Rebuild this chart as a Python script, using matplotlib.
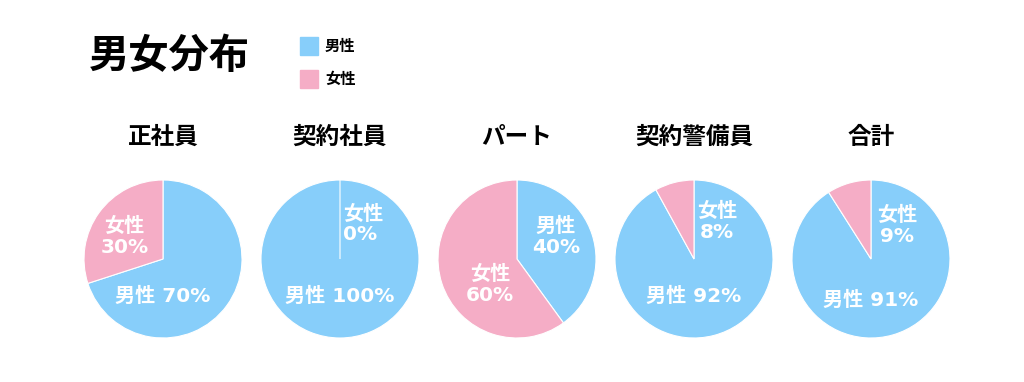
import matplotlib
matplotlib.use("Agg")
import matplotlib.pyplot as plt

plt.rcParams['font.family'] = ['DejaVu Sans', 'Noto Sans CJK JP']

categories = ["正社員", "契約社員", "パート", "契約警備員", "合計"]
male = [70, 100, 40, 92, 91]
female = [30, 0, 60, 8, 9]
series_names = ["男性", "女性"]
colors = ["#87CEFA", "#F5ADC6"]

# label positions (in radius units) for male / female text
male_pos = [(0, -0.47), (0, -0.47), (0.49, 0.28), (0, -0.47), (0, -0.52)]
female_pos = [(-0.49, 0.28), (0.04, 0.44), (-0.34, -0.33), (0.29, 0.47), (0.33, 0.42)]
female_ha = ["center", "left", "center", "center", "center"]

W, H = 1024, 382
fig = plt.figure(figsize=(W / 100, H / 100), dpi=100)

fig.text(89 / W, 1 - 57 / H, "男女分布", fontsize=29, fontweight="bold",
         ha="left", va="center")

# legend
for i, (name, c) in enumerate(zip(series_names, colors)):
    y = 46 + i * 33
    fig.patches.append(plt.Rectangle((300 / W, 1 - (y + 9) / H), 18 / W, 18 / H,
                                     transform=fig.transFigure, color=c))
    fig.text(325 / W, 1 - y / H, name, fontsize=11, fontweight="bold",
             ha="left", va="center")

centers = [163, 340, 517, 694, 871]
cy, r = 259, 79
for i, cat in enumerate(categories):
    cx = centers[i]
    ax = fig.add_axes([(cx - r) / W, 1 - (cy + r) / H, 2 * r / W, 2 * r / H])
    ax.pie([male[i], female[i]], colors=colors, startangle=90, counterclock=False,
           radius=1, wedgeprops=dict(edgecolor="white", linewidth=0.8))
    ax.set_xlim(-1, 1)
    ax.set_ylim(-1, 1)
    ax.set_aspect("equal")
    ax.axis("off")
    fig.text(cx / W, 1 - 137 / H, cat, fontsize=17, fontweight="bold",
             ha="center", va="center")

    mx, my = male_pos[i]
    fx, fy = female_pos[i]
    if cat == "パート":
        mtxt = f"男性\n{male[i]}%"
    else:
        mtxt = f"男性 {male[i]}%"
    ax.text(mx, my, mtxt, ha="center", va="center", color="white",
            fontsize=14.5, fontweight="bold", linespacing=1.1)
    ax.text(fx, fy, f"女性\n{female[i]}%", ha=female_ha[i], va="center",
            multialignment=female_ha[i], color="white",
            fontsize=14.5, fontweight="bold", linespacing=1.1)

fig.savefig("out.png", dpi=100)
